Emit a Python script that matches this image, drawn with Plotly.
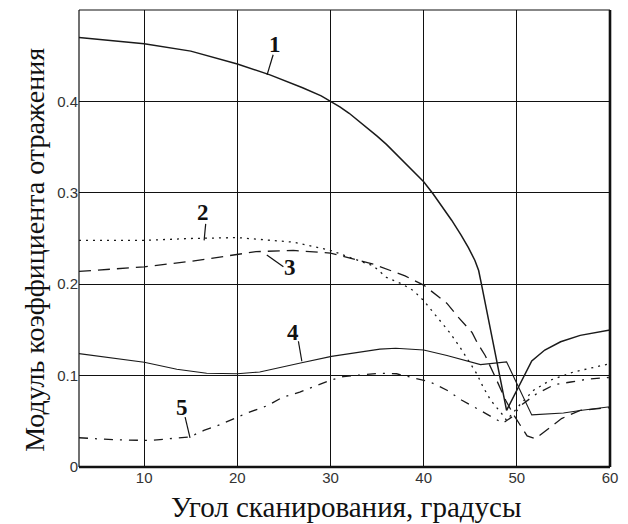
import plotly.graph_objects as go

# Scan angle (degrees) and reflection-coefficient magnitude for each curve
x1 = [3, 10, 15, 20, 23.5, 27, 29, 30, 31, 32, 33, 34, 35, 36, 37, 38, 39, 40, 41, 42, 43, 44, 44.8, 45.5, 45.9, 46.2, 48.9, 51.6, 53, 54.7, 56.8, 60]
y1 = [0.470, 0.463, 0.455, 0.441, 0.429, 0.415, 0.406, 0.400, 0.394, 0.387, 0.379, 0.371, 0.362, 0.353, 0.343, 0.333, 0.323, 0.312, 0.299, 0.285, 0.270, 0.254, 0.240, 0.226, 0.215, 0.200, 0.062, 0.116, 0.128, 0.137, 0.144, 0.150]

x2 = [3, 10, 15, 20, 26, 30, 34.6, 36, 37.7, 38.9, 40, 40.7, 41.8, 42.8, 43.9, 45.7, 46.4, 47.2, 48.4, 48.9, 50.4, 51.8, 53.6, 56.1, 60]
y2 = [0.248, 0.248, 0.250, 0.251, 0.246, 0.237, 0.220, 0.2075, 0.200, 0.193, 0.182, 0.173, 0.160, 0.147, 0.131, 0.102, 0.087, 0.073, 0.058, 0.051, 0.069, 0.084, 0.095, 0.104, 0.113]

x3 = [3, 10, 15, 20, 22, 26, 30, 34.6, 35.7, 38, 40, 41, 42.5, 43.7, 45.2, 45.8, 46.6, 47.7, 48.8, 49.6, 51.1, 52, 53.6, 54.8, 56.8, 60]
y3 = [0.214, 0.219, 0.225, 0.232, 0.2356, 0.237, 0.234, 0.222, 0.218, 0.209, 0.199, 0.191, 0.179, 0.164, 0.147, 0.135, 0.122, 0.098, 0.073, 0.058, 0.034, 0.031, 0.044, 0.053, 0.062, 0.065]

x4 = [3, 10, 13.5, 16.7, 20, 22.4, 26.9, 30.1, 35.3, 37, 40, 42.5, 46.1, 48.9, 51.6, 55, 57, 60]
y4 = [0.124, 0.1146, 0.107, 0.1026, 0.102, 0.104, 0.114, 0.121, 0.129, 0.130, 0.128, 0.122, 0.112, 0.115, 0.057, 0.059, 0.062, 0.066]

x5 = [3, 6.9, 10.6, 12.8, 14.9, 16.4, 17.8, 19.9, 21, 23.2, 24.8, 26.7, 28.7, 30, 31.4, 35.3, 37.1, 39.3, 40.7, 42.5, 44.1, 45.7, 47.2, 48.5, 49.5, 50.5, 52.1, 54, 55.8, 57.5, 60]
y5 = [0.032, 0.0297, 0.029, 0.031, 0.033, 0.040, 0.045, 0.054, 0.059, 0.067, 0.076, 0.082, 0.090, 0.095, 0.099, 0.1025, 0.102, 0.096, 0.093, 0.084, 0.073, 0.064, 0.055, 0.048, 0.055, 0.068, 0.080, 0.090, 0.093, 0.096, 0.098]

x_ticks = [10, 20, 30, 40, 50, 60]
y_ticks = [0, 0.1, 0.2, 0.3, 0.4]
y_tick_text = ["0", "0.1", "0.2", "0.3", "0.4"]

x_title = "Угол сканирования, градусы"
y_title = "Модуль коэффициента отражения"

SERIF = "Liberation Serif, Times New Roman, DejaVu Serif, serif"
SANS = "Liberation Sans, Arial, sans-serif"

curves = [
    (x1, y1, "solid", 1.5),
    (x2, y2, "2px,5px", 1.3),
    (x3, y3, "12px,7px", 1.3),
    (x4, y4, "solid", 1.1),
    (x5, y5, "9px,7px,2px,7px", 1.3),
]

fig = go.Figure()
for xs, ys, dash, w in curves:
    fig.add_trace(go.Scatter(x=xs, y=ys, mode="lines", line_shape="linear",
                             line=dict(color="#1a1a1a", width=w, dash=dash),
                             showlegend=False, hoverinfo="skip"))

# Curve numbers with short leader lines
labels = [
    ("1", 24.05, 0.462, (23.84, 0.451, 23.19, 0.429)),
    ("2", 16.35, 0.2786, (16.6, 0.266, 16.43, 0.248)),
    ("3", 25.66, 0.218, (23.16, 0.232, 24.94, 0.219)),
    ("4", 26.02, 0.147, (26.55, 0.1376, 26.92, 0.1157)),
    ("5", 14.03, 0.0647, (14.39, 0.0545, 14.92, 0.0319)),
]
shapes = []
annotations = []
for txt, lx, ly, (ax0, ay0, ax1, ay1) in labels:
    annotations.append(dict(x=lx, y=ly, text="<b>%s</b>" % txt, showarrow=False,
                            font=dict(family=SERIF, size=23, color="#111")))
    shapes.append(dict(type="line", xref="x", yref="y", x0=ax0, y0=ay0, x1=ax1, y1=ay1,
                       line=dict(color="#111", width=1.2)))

# Axis titles
annotations += [
    dict(text=x_title, xref="paper", yref="paper", x=0.503, y=-0.0875,
         xanchor="center", yanchor="middle", showarrow=False,
         font=dict(family=SERIF, size=29, color="#111")),
    dict(text=y_title, xref="paper", yref="paper", x=-0.083, y=0.475, textangle=-90,
         xanchor="center", yanchor="middle", showarrow=False,
         font=dict(family=SERIF, size=28, color="#111")),
]

# Plot frame: thin left/top, heavier right/bottom
shapes += [
    dict(type="line", xref="paper", yref="paper", x0=0, y0=0, x1=0, y1=1, line=dict(color="#111", width=1.2)),
    dict(type="line", xref="paper", yref="paper", x0=0, y0=1, x1=1, y1=1, line=dict(color="#111", width=1.2)),
    dict(type="line", xref="paper", yref="paper", x0=1, y0=0, x1=1, y1=1, line=dict(color="#111", width=2.6)),
    dict(type="line", xref="paper", yref="paper", x0=0, y0=0, x1=1, y1=0, line=dict(color="#111", width=2.6)),
]

fig.update_layout(
    width=628, height=524,
    margin=dict(l=79, r=18, t=10, b=57),
    paper_bgcolor="white", plot_bgcolor="white",
    shapes=shapes, annotations=annotations,
    xaxis=dict(range=[3, 60], tickvals=x_ticks, showgrid=True, gridcolor="#111", gridwidth=1.2,
               zeroline=False, showline=False, ticks="",
               tickfont=dict(family=SANS, size=15, color="#333")),
    yaxis=dict(range=[0, 0.5], tickvals=y_ticks, ticktext=y_tick_text, showgrid=True,
               gridcolor="#111", gridwidth=1.2, zeroline=False, showline=False, ticks="",
               tickfont=dict(family=SANS, size=15, color="#333")),
)

fig.write_html("out.html")
